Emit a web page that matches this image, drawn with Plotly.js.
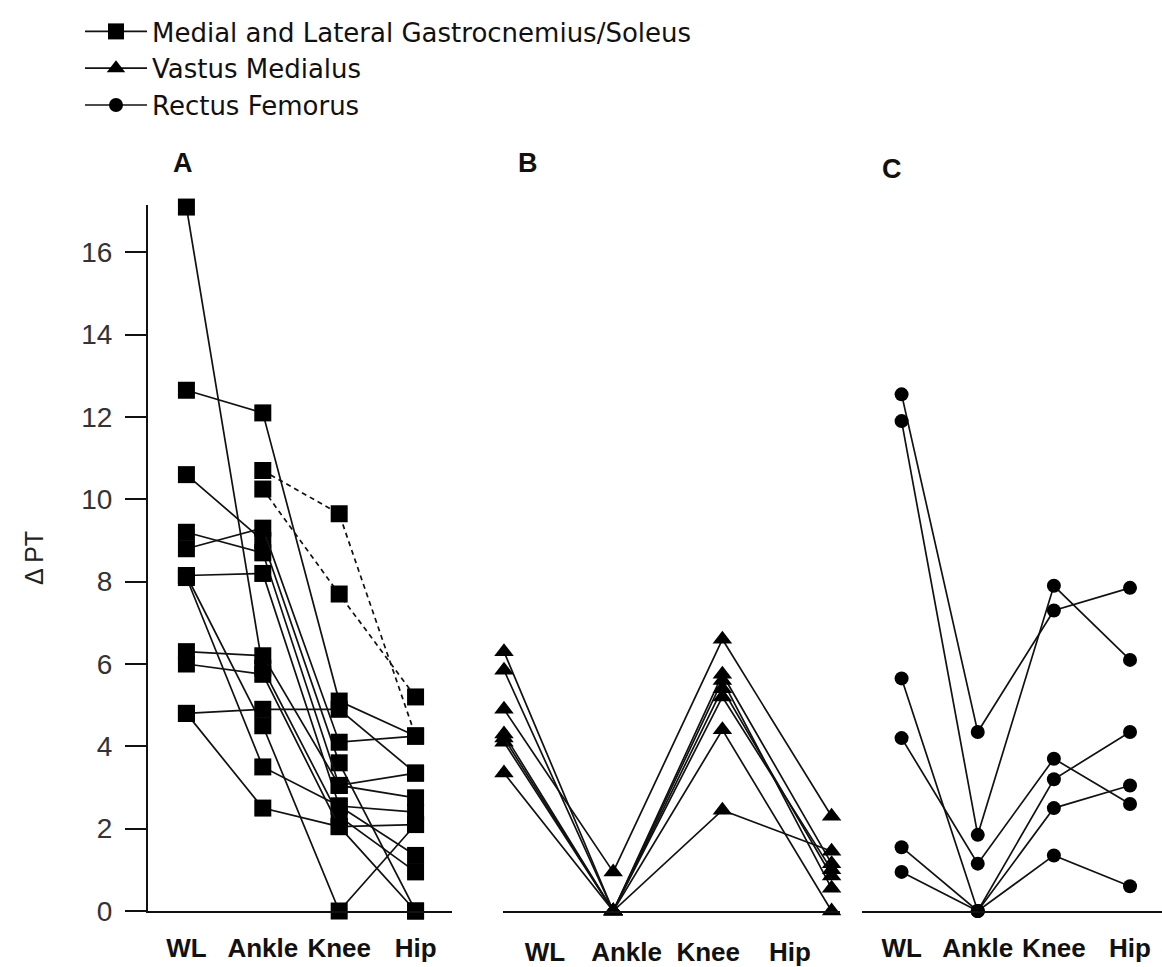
<!DOCTYPE html>
<html>
<head>
<meta charset="utf-8">
<script src="https://cdn.plot.ly/plotly-3.0.1.min.js"></script>
<style>html,body{margin:0;padding:0;background:#fff;}#chart{width:1162px;height:967px;}</style>
</head>
<body>
<div id="chart"></div>
<script>
// ---------- data ----------
const categories = ['WL', 'Ankle', 'Knee', 'Hip'];
const seriesNames = ['Medial and Lateral Gastrocnemius/Soleus', 'Vastus Medialus', 'Rectus Femorus'];
const panelLabels = ['A', 'B', 'C'];
const yTitle = '\u0394 PT';

// Panel A: Medial and Lateral Gastrocnemius/Soleus (one entry per subject)
const gastrocWL    = [17.1, 12.65, 10.6, 9.2, 8.8, 8.15, 8.15, 8.1, 6.3, 6.0, 4.8, 4.8, null, null];
const gastrocAnkle = [5.9, 12.1, 9.0, 8.7, 9.3, 8.2, 4.5, 3.5, 6.2, 5.75, 4.9, 2.5, 10.7, 10.25];
const gastrocKnee  = [2.3, 5.1, 3.6, 3.05, 4.1, 2.55, 0, 2.55, 3.05, 2.05, 4.9, 2.05, 9.65, 7.7];
const gastrocHip   = [0.95, 4.25, 0, 2.75, 4.25, 2.4, 2.1, 1.35, 3.35, 2.1, 3.35, 0, 4.25, 5.2];

// Panel B: Vastus Medialus
const vmWL    = [6.3, 5.85, 4.9, 4.3, 4.1, 4.2, 3.35];
const vmAnkle = [0, 0, 0.95, 0, 0, 0, 0];
const vmKnee  = [5.75, 5.6, 6.6, 5.4, 5.2, 4.4, 2.45];
const vmHip   = [1.15, 0.55, 2.3, 0.85, 1.0, 0, 1.45];

// Panel C: Rectus Femorus
const rfWL    = [12.55, 11.9, 5.65, 4.2, 1.55, 0.95];
const rfAnkle = [4.35, 1.85, 0, 1.15, 0, 0];
const rfKnee  = [7.3, 7.9, 3.2, 3.7, 2.5, 1.35];
const rfHip   = [7.85, 6.1, 4.35, 2.6, 3.05, 0.6];

// ---------- layout helpers (pixel -> paper) ----------
const ML = 148, MT = 205, MB = 56, W = 1162, H = 967;
const PW = W - ML, PH = H - MT - MB;
const px = x => (x - ML) / PW;
const py = y => (H - MB - y) / PH;

const lineColor = '#111';
const traces = [];

function addPanel(wl, ankle, knee, hip, xa, name, symbol, size, group) {
  wl.forEach((_, i) => {
    const dashed = wl[i] === null;   // subjects without a WL value are drawn dashed
    traces.push({
      type: 'scatter', mode: 'lines+markers',
      x: categories, y: [wl[i], ankle[i], knee[i], hip[i]],
      xaxis: xa, yaxis: 'y',
      name: name, legendgroup: group, showlegend: i === 0,
      line: {color: lineColor, width: 1.7, dash: dashed ? '5px,4px' : 'solid'},
      marker: {symbol: symbol, size: size, color: '#000'},
      cliponaxis: false, hoverinfo: 'skip'
    });
  });
}
addPanel(gastrocWL, gastrocAnkle, gastrocKnee, gastrocHip, 'x', seriesNames[0], 'square', 17, 'g');
addPanel(vmWL, vmAnkle, vmKnee, vmHip, 'x2', seriesNames[1], 'triangle-up', 17, 'v');
addPanel(rfWL, rfAnkle, rfKnee, rfHip, 'x3', seriesNames[2], 'circle', 14, 'r');
// carrier for panel B's (offset) category labels
traces.push({type: 'scatter', mode: 'markers', x: categories, y: categories.map(() => null),
  xaxis: 'x4', yaxis: 'y', showlegend: false, hoverinfo: 'skip'});

const catFont = {family: 'Liberation Sans, Arial, sans-serif', size: 26, color: '#111', weight: 'bold'};
const baseX = {type: 'category', showgrid: false, zeroline: false, showline: true,
  linecolor: lineColor, linewidth: 2, ticks: '', tickfont: catFont, anchor: 'y',
  ticklabelstandoff: 13, fixedrange: true};

const layout = {
  width: W, height: H,
  margin: {l: ML, r: 0, t: MT, b: MB, pad: 0},
  paper_bgcolor: '#fff', plot_bgcolor: 'rgba(0,0,0,0)',
  showlegend: true,
  legend: {x: px(80), y: py(8), xanchor: 'left', yanchor: 'top',
    font: {family: 'DejaVu Sans, sans-serif', size: 26, color: '#111'},
    bgcolor: 'rgba(0,0,0,0)', itemwidth: 62, tracegroupgap: 0},
  xaxis: Object.assign({}, baseX, {domain: [0, px(452)], range: [-0.503, 3.477]}),
  xaxis2: Object.assign({}, baseX, {domain: [px(503), px(840)], range: [-0.009, 3.077], showticklabels: false}),
  xaxis3: Object.assign({}, baseX, {domain: [px(862), 1], range: [-0.52, 3.42]}),
  xaxis4: Object.assign({}, baseX, {overlaying: 'x2', showline: false, range: [-0.515, 3.615], ticklabelstandoff: 23}),
  yaxis: {domain: [0, 1], range: [0, 17.15], dtick: 2, tick0: 0, showgrid: false, zeroline: false,
    showline: true, linecolor: lineColor, linewidth: 2,
    ticks: 'outside', ticklen: 21, tickwidth: 2, tickcolor: lineColor, ticklabelstandoff: 7,
    tickfont: {family: 'Liberation Sans, Arial, sans-serif', size: 28, color: '#333'},
    title: {text: yTitle, font: {family: 'Liberation Sans, Arial, sans-serif', size: 25, color: '#222'}, standoff: 30},
    fixedrange: true},
  annotations: [
    {text: panelLabels[0], x: px(183), y: py(163)},
    {text: panelLabels[1], x: px(528), y: py(163)},
    {text: panelLabels[2], x: px(892), y: py(169)}
  ].map(a => Object.assign(a, {xref: 'paper', yref: 'paper', showarrow: false,
    xanchor: 'center', yanchor: 'middle',
    font: {family: 'Liberation Sans, Arial, sans-serif', size: 27, color: '#111', weight: 'bold'}}))
};

Plotly.newPlot('chart', traces, layout, {staticPlot: true, displayModeBar: false});
</script>
</body>
</html>
